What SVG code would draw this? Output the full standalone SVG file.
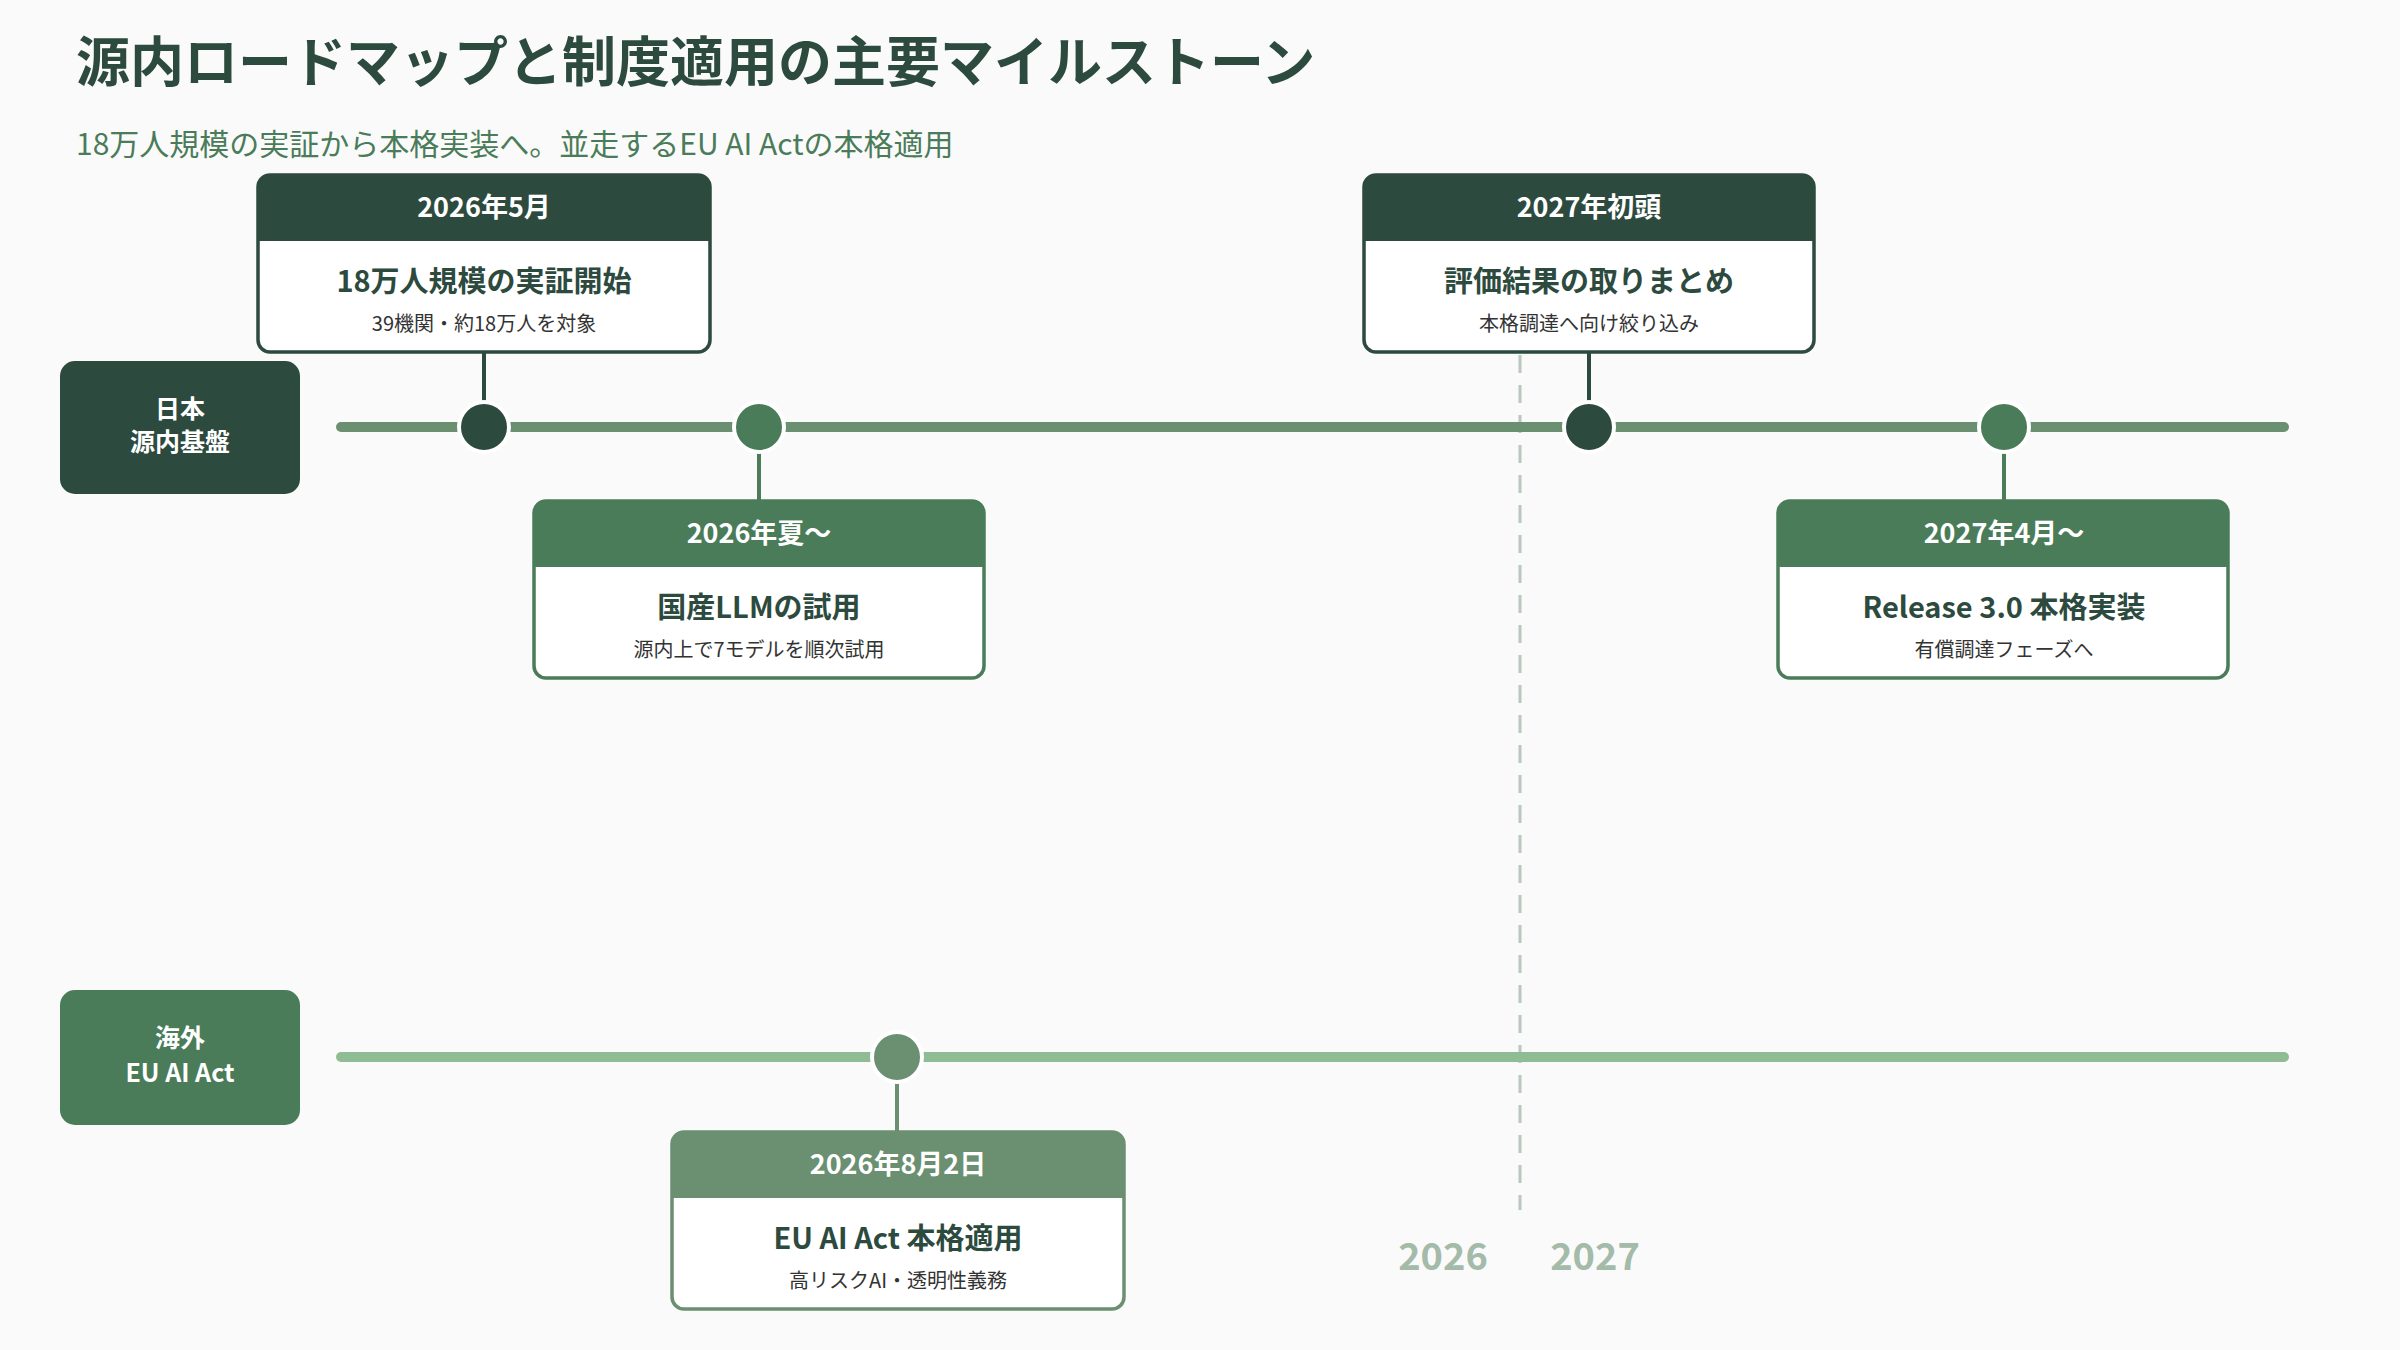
<svg xmlns="http://www.w3.org/2000/svg" width="2400" height="1350" viewBox="0 0 2400 1350">
<style>
text{font-family:"Noto Sans CJK JP","Noto Sans",sans-serif}
.hd{fill:#fff;font-size:27px;font-weight:700;text-anchor:middle}
.tt{fill:#2d4a3e;font-size:29px;font-weight:700;text-anchor:middle}
.sb{fill:#333;font-size:20px;text-anchor:middle}
.lb{fill:#fff;font-size:25px;font-weight:700;text-anchor:middle}
.yr{fill:#a3bba8;font-size:38px;font-weight:700;text-anchor:middle}
.card{fill:#fff;stroke-width:3.5}
.conn{stroke-width:4}
.dot{stroke:#fff;stroke-width:4}
</style>
<rect width="2400" height="1350" fill="#fafafa"/>
<text x="76" y="82" font-size="54" font-weight="700" fill="#2d4a3e">源内ロードマップと制度適用の主要マイルストーン</text>
<text x="76" y="155" font-size="30" fill="#4a7c59">18万人規模の実証から本格実装へ。並走するEU AI Actの本格適用</text>

<line x1="1520" y1="355" x2="1520" y2="1210" stroke="#b8c8bc" stroke-width="3" stroke-dasharray="18,12"/>
<text class="yr" x="1443" y="1270">2026</text>
<text class="yr" x="1595" y="1270">2027</text>

<g id="connectors">
<line x1="341" y1="427" x2="2284" y2="427" stroke="#6b8f71" stroke-width="10" stroke-linecap="round"/>
<line x1="341" y1="1057" x2="2284" y2="1057" stroke="#8fbc94" stroke-width="10" stroke-linecap="round"/>
<line class="conn" x1="484" y1="352" x2="484" y2="427" stroke="#2d4a3e"/>
<line class="conn" x1="759" y1="427" x2="759" y2="500" stroke="#4a7c59"/>
<line class="conn" x1="1589" y1="352" x2="1589" y2="427" stroke="#2d4a3e"/>
<line class="conn" x1="2004" y1="427" x2="2004" y2="500" stroke="#4a7c59"/>
<line class="conn" x1="897" y1="1057" x2="897" y2="1131" stroke="#6b8f71"/>
<circle class="dot" cx="484" cy="427" r="25" fill="#2d4a3e"/>
<circle class="dot" cx="759" cy="427" r="25" fill="#4a7c59"/>
<circle class="dot" cx="1589" cy="427" r="25" fill="#2d4a3e"/>
<circle class="dot" cx="2004" cy="427" r="25" fill="#4a7c59"/>
<circle class="dot" cx="897" cy="1057" r="25" fill="#6b8f71"/>
</g>

<g id="lane-japan">
<rect x="60" y="361" width="240" height="133" rx="15" fill="#2d4a3e"/>
<text class="lb" x="180" y="418">日本</text>
<text class="lb" x="180" y="451">源内基盤</text>
</g>
<g id="lane-eu">
<rect x="60" y="990" width="240" height="135" rx="15" fill="#4a7c59"/>
<text class="lb" x="180" y="1047">海外</text>
<text class="lb" x="180" y="1082">EU AI Act</text>
</g>

<g id="m1">
<rect class="card" x="258" y="175" width="452" height="177" rx="12" stroke="#2d4a3e"/>
<path d="M258,241V187a12,12 0 0 1 12,-12H698a12,12 0 0 1 12,12V241Z" fill="#2d4a3e"/>
<text class="hd" x="484" y="217">2026年5月</text>
<text class="tt" x="484" y="292">18万人規模の実証開始</text>
<text class="sb" x="484" y="331">39機関・約18万人を対象</text>
</g>
<g id="m2">
<rect class="card" x="534" y="501" width="450" height="177" rx="12" stroke="#4a7c59"/>
<path d="M534,567V513a12,12 0 0 1 12,-12H972a12,12 0 0 1 12,12V567Z" fill="#4a7c59"/>
<text class="hd" x="759" y="543">2026年夏〜</text>
<text class="tt" x="759" y="618">国産LLMの試用</text>
<text class="sb" x="759" y="657">源内上で7モデルを順次試用</text>
</g>
<g id="m3">
<rect class="card" x="1364" y="175" width="450" height="177" rx="12" stroke="#2d4a3e"/>
<path d="M1364,241V187a12,12 0 0 1 12,-12H1802a12,12 0 0 1 12,12V241Z" fill="#2d4a3e"/>
<text class="hd" x="1589" y="217">2027年初頭</text>
<text class="tt" x="1589" y="292">評価結果の取りまとめ</text>
<text class="sb" x="1589" y="331">本格調達へ向け絞り込み</text>
</g>
<g id="m4">
<rect class="card" x="1778" y="501" width="450" height="177" rx="12" stroke="#4a7c59"/>
<path d="M1778,567V513a12,12 0 0 1 12,-12H2216a12,12 0 0 1 12,12V567Z" fill="#4a7c59"/>
<text class="hd" x="2004" y="543">2027年4月〜</text>
<text class="tt" x="2004" y="618">Release 3.0 本格実装</text>
<text class="sb" x="2004" y="657">有償調達フェーズへ</text>
</g>
<g id="m5">
<rect class="card" x="672" y="1132" width="452" height="177" rx="12" stroke="#6b8f71"/>
<path d="M672,1198V1144a12,12 0 0 1 12,-12H1112a12,12 0 0 1 12,12V1198Z" fill="#6b8f71"/>
<text class="hd" x="898" y="1174">2026年8月2日</text>
<text class="tt" x="898" y="1249">EU AI Act 本格適用</text>
<text class="sb" x="898" y="1288">高リスクAI・透明性義務</text>
</g>
</svg>
